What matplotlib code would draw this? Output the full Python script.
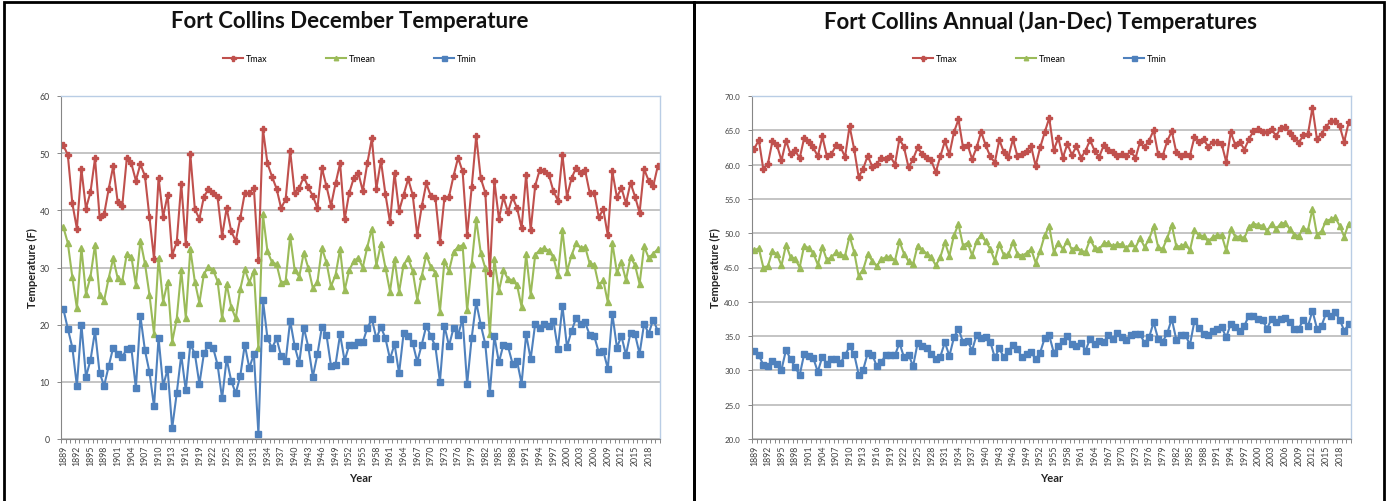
import matplotlib
matplotlib.use("Agg")
import matplotlib.pyplot as plt
from matplotlib.ticker import MultipleLocator, FixedLocator

plt.rcParams['font.family'] = ['Lato', 'DejaVu Sans']

years = list(range(1889, 2021))
label_years = list(range(1889, 2021, 3))

# December temperatures (F)
dec_tmax = [51.4, 49.7, 41.2, 36.8, 47.2, 40.3, 43.2, 49.1, 38.9, 39.3,
            43.7, 47.7, 41.4, 40.8, 49.1, 48.2, 45.2, 48.1, 46.0, 38.8,
            31.5, 45.7, 38.9, 42.7, 32.2, 34.4, 44.6, 34.1, 49.8, 40.2,
            38.5, 42.4, 43.7, 43.1, 42.3, 35.5, 40.4, 36.4, 34.6, 38.6,
            43.0, 43.0, 43.9, 31.3,
            54.2, 48.2, 45.9, 43.8, 40.4, 41.9, 50.4, 43.0, 43.9, 45.9,
            44.0, 42.5, 40.4, 47.4, 44.2, 40.8, 44.7, 48.2, 38.4, 43.0,
            45.6, 46.6, 43.4, 48.2, 52.6, 43.8, 48.7, 42.8, 37.9, 46.5,
            39.9, 42.7, 45.5, 42.7, 35.7, 40.7, 44.7, 42.5, 42.2, 34.5,
            42.2, 42.4, 46.0, 49.2, 46.8, 35.6,
            44.0, 53.0, 45.6, 43.1, 29.0, 45.1, 38.5, 42.3, 39.7, 42.3,
            40.4, 36.9, 46.2, 36.5, 44.3, 47.1, 46.9, 46.2, 43.4, 41.7,
            49.7, 42.4, 45.6, 47.4, 46.6, 47.0, 43.1, 43.1, 38.8, 40.2,
            35.6, 46.8, 42.3, 43.9, 41.2, 44.8, 42.4, 39.6, 47.2, 45.2,
            44.2, 47.7]
dec_tmean = [37.1, 34.3, 28.3, 22.9, 33.4, 25.4, 28.4, 34.0, 25.2, 24.2,
             28.1, 31.6, 28.1, 27.6, 32.4, 31.9, 27.0, 34.7, 30.7, 25.2,
             18.4, 31.7, 24.0, 27.5, 17.0, 21.0, 29.5, 21.2, 33.2, 27.5,
             23.8, 28.9, 30.1, 29.6, 27.6, 21.1, 27.1, 23.1, 21.1, 26.2,
             29.7, 27.4, 29.4, 15.9,
             39.3, 32.8, 30.9, 30.6, 27.3, 27.6, 35.5, 29.5, 28.4, 32.6,
             29.9, 26.4, 27.4, 33.4, 30.9, 26.7, 28.7, 33.2, 26.0, 29.5,
             31.1, 31.7, 30.0, 33.6, 36.8, 30.4, 34.1, 29.9, 25.8, 31.5,
             25.7, 30.5, 31.6, 29.4, 24.4, 28.5, 32.2, 30.1, 29.1, 22.3,
             31.1, 29.4, 32.7, 33.6, 33.9, 22.5,
             30.6, 38.4, 32.6, 29.9, 18.3, 31.4, 25.9, 29.5, 28.0, 27.8,
             26.9, 23.1, 32.3, 25.2, 32.2, 33.1, 33.4, 32.9, 31.8, 28.7,
             36.5, 29.3, 32.1, 34.3, 33.4, 33.6, 30.7, 30.5, 26.9, 27.8,
             23.9, 34.3, 29.2, 30.9, 27.8, 31.8, 30.4, 27.1, 33.7, 31.7,
             32.4, 33.2]
dec_tmin = [22.8, 19.3, 16.0, 9.3, 20.0, 10.9, 13.8, 18.9, 11.6, 9.3,
            12.7, 16.0, 14.9, 14.4, 15.7, 15.9, 8.9, 21.5, 15.5, 11.7,
            5.7, 17.7, 9.3, 12.2, 1.9, 8.0, 14.7, 8.5, 16.6, 14.9,
            9.6, 15.0, 16.4, 16.0, 13.0, 7.1, 14.0, 10.2, 8.0, 11.0,
            16.5, 12.4, 14.9, 0.9,
            24.3, 17.6, 15.9, 17.6, 14.5, 13.6, 20.7, 16.2, 13.3, 19.5,
            16.1, 10.9, 14.8, 19.6, 18.2, 12.8, 13.0, 18.3, 13.7, 16.4,
            16.4, 16.9, 16.9, 19.4, 21.0, 17.6, 19.6, 17.6, 14.0, 16.6,
            11.5, 18.5, 18.0, 16.8, 13.5, 16.5, 19.8, 18.0, 16.2, 10.0,
            19.8, 16.3, 19.4, 18.2, 21.0, 9.6,
            17.7, 23.9, 20.0, 16.6, 8.0, 18.0, 13.4, 16.5, 16.2, 13.2,
            13.6, 9.7, 18.3, 14.0, 20.2, 19.5, 20.1, 19.7, 20.7, 15.8,
            23.3, 16.1, 18.9, 21.1, 20.1, 20.4, 18.2, 18.0, 15.2, 15.4,
            12.3, 21.9, 16.0, 18.0, 14.7, 18.6, 18.3, 14.9, 20.2, 18.4,
            20.9, 18.9]

# annual temperatures (F)
ann_tmax = [62.3, 63.6, 59.3, 60.1, 63.4, 62.8, 60.6, 63.5, 61.5, 62.1,
            60.9, 63.9, 63.3, 62.5, 61.2, 64.1, 61.2, 61.5, 62.8, 62.6,
            61.1, 65.6, 62.3, 58.2, 59.4, 61.3, 59.7, 60.1, 61.0, 60.8,
            61.2, 60.0, 63.8, 62.5, 59.6, 60.8, 62.5, 61.5, 61.0,
            60.6, 58.9, 61.2, 63.4, 61.5, 64.7, 66.6, 62.5, 62.9, 60.8,
            62.5, 64.8, 62.8, 61.2, 60.3, 63.6, 61.8, 61.1, 63.7, 61.2,
            61.6, 62.0, 62.7, 59.8, 62.5, 64.7, 66.8, 62.1, 63.9, 61.0,
            63.0, 61.4, 62.7, 61.0, 62.0, 63.6, 62.0, 61.1, 62.8, 62.2,
            61.8, 61.3, 61.6, 61.3, 62.0, 60.9, 63.3,
            62.5, 63.5, 65.0, 61.5, 61.3, 63.4, 64.9, 61.8, 61.3, 61.5,
            61.3, 64.0, 63.3, 63.8, 62.6, 63.3, 63.3, 63.0, 60.4, 64.7,
            62.9, 63.3, 62.2, 63.7, 64.9, 65.2, 64.8, 64.8, 65.2, 64.1,
            65.4, 65.5, 64.6, 63.9, 63.2, 64.3, 64.4, 68.3, 63.7, 64.5,
            65.5, 66.3, 66.4, 65.6, 63.3, 66.2]
ann_tmean = [47.5, 47.8, 45.0, 45.2, 47.4, 46.9, 45.3, 48.3, 46.5, 46.3,
             45.0, 48.2, 47.8, 47.1, 45.4, 48.0, 46.1, 46.5, 47.2, 46.9,
             46.7, 49.6, 47.3, 43.8, 44.7, 46.9, 46.0, 45.2, 46.2, 46.5,
             46.6, 46.0, 48.8, 47.0, 45.9, 45.5, 48.2, 47.6, 47.0,
             46.5, 45.3, 46.5, 48.7, 46.7, 49.7, 51.3, 48.2, 48.6, 46.8,
             48.8, 49.7, 48.8, 47.7, 46.0, 48.4, 46.8, 46.9, 48.7, 47.0,
             46.7, 47.1, 47.7, 45.7, 47.4, 49.7, 51.0, 47.3, 48.6, 47.7,
             48.9, 47.6, 48.0, 47.4, 47.3, 49.1, 47.9, 47.7, 48.5, 48.6,
             48.1, 48.4, 48.4, 47.8, 48.5, 47.9, 49.3,
             48.0, 49.1, 51.0, 48.0, 47.7, 49.3, 51.2, 48.1, 48.1, 48.4,
             47.5, 50.4, 49.7, 49.6, 48.8, 49.4, 49.7, 49.7, 47.5, 50.6,
             49.5, 49.5, 49.3, 50.9, 51.4, 51.2, 51.1, 50.3, 51.4, 50.6,
             51.4, 51.5, 50.6, 49.8, 49.6, 50.8, 50.4, 53.5, 49.8, 50.3,
             51.8, 52.0, 52.3, 51.1, 49.5, 51.4]
ann_tmin = [32.9, 32.2, 30.8, 30.6, 31.3, 30.9, 30.1, 33.0, 31.6, 30.5,
            29.3, 32.4, 32.1, 31.8, 29.8, 32.0, 31.0, 31.7, 31.7, 31.1,
            32.2, 33.5, 32.4, 29.4, 30.1, 32.5, 32.3, 30.6, 31.2, 32.3,
            32.2, 32.2, 34.0, 31.9, 32.3, 30.6, 34.0, 33.6, 33.2,
            32.4, 31.7, 32.0, 34.1, 32.1, 34.8, 36.1, 34.1, 34.3, 32.9,
            35.2, 34.7, 34.8, 34.2, 31.9, 33.2, 31.9, 32.8, 33.7, 33.1,
            31.9, 32.4, 32.7, 31.6, 32.6, 34.7, 35.1, 32.6, 33.5, 34.3,
            35.0, 33.8, 33.6, 34.0, 32.9, 34.6, 33.9, 34.3, 34.1, 35.1,
            34.6, 35.5, 34.8, 34.5, 35.1, 35.3, 35.3,
            34.0, 34.8, 37.0, 34.6, 34.2, 35.4, 37.5, 34.5, 35.1, 35.2,
            33.7, 37.2, 36.2, 35.3, 35.1, 35.8, 36.1, 36.3, 34.8, 36.8,
            36.3, 35.8, 36.5, 38.0, 37.9, 37.5, 37.3, 36.1, 37.5, 37.0,
            37.5, 37.6, 37.1, 36.1, 36.1, 37.4, 36.4, 38.7, 36.1, 36.5,
            38.3, 37.9, 38.5, 37.4, 35.8, 36.7]

red = '#C0504D'
green = '#9BBB59'
blue = '#4F81BD'

W, H = 1391, 502
fig = plt.figure(figsize=(W / 100, H / 100), dpi=100)


def draw_panel(left_px, center_px, title, tmax, tmean, tmin, ylo, yhi, ystep, yfmt,
               ypad, ysize, ylab_x):
    ax = fig.add_axes([left_px / W, 62 / H, 599 / W, 343 / H])
    ax.plot(years, tmax, color=red, lw=1.5, marker='P', ms=4.5, mec=red, label='Tmax')
    ax.plot(years, tmean, color=green, lw=1.5, marker='^', ms=4, label='Tmean')
    ax.plot(years, tmin, color=blue, lw=1.5, marker='s', ms=4.5, label='Tmin')

    ax.set_xlim(years[0] - 0.5, years[-1] + 0.5)
    ax.set_ylim(ylo, yhi)
    ax.yaxis.set_major_locator(MultipleLocator(ystep))
    ax.yaxis.set_major_formatter(yfmt)
    ax.grid(axis='y', color='#b4b4b4', lw=1.1)
    ax.set_axisbelow(True)

    ax.xaxis.set_major_locator(FixedLocator(label_years))
    ax.xaxis.set_minor_locator(FixedLocator([y - 0.5 for y in years] + [years[-1] + 0.5]))
    ax.tick_params(axis='x', which='major', length=0, labelsize=6.3, rotation=90,
                   labelcolor='#404040', pad=4)
    ax.tick_params(axis='x', which='minor', length=3, color='#868686', width=0.7)
    ax.tick_params(axis='y', length=3, color='#868686', width=0.7, labelsize=ysize,
                   labelcolor='#404040', pad=ypad)

    for s in ['left', 'bottom']:
        ax.spines[s].set_color('#868686')
        ax.spines[s].set_linewidth(0.8)
    for s in ['top', 'right']:
        ax.spines[s].set_color('#B9CDE5')
        ax.spines[s].set_linewidth(1.0)

    ax.set_ylabel('Temperature (F)', fontsize=8, fontweight='bold', color='#222222')
    ax.yaxis.set_label_coords(ylab_x, 0.5)
    ax.set_xlabel('Year', fontsize=8, fontweight='bold', color='#222222')
    ax.xaxis.set_label_coords(0.5, -0.097)

    fig.text(center_px / W, 1 - 22 / H, title, ha='center', va='center',
             fontsize=16, fontweight='bold', color='#111111')
    fig.legend(*ax.get_legend_handles_labels(), loc='center', ncol=3,
               bbox_to_anchor=(center_px / W, 1 - 60 / H), frameon=False,
               fontsize=6.5, handlelength=2.2, handletextpad=0.3, columnspacing=6.5,
               markerscale=0.8)
    return ax


draw_panel(61, 350, 'Fort Collins December Temperature',
           dec_tmax, dec_tmean, dec_tmin, 0, 60, 10, '{x:.0f}', 5, 6.3, -0.038)
draw_panel(752, 1040, 'Fort Collins Annual (Jan-Dec) Temperatures',
           ann_tmax, ann_tmean, ann_tmin, 20, 70, 5, '{x:.1f}', 5.5, 5.8, -0.051)

# panel frames
for x0, x1 in [(4, 694), (694, 1384)]:
    fig.add_artist(plt.Rectangle((x0 / W, -0.05), (x1 - x0) / W, 1.05 - 3 / H,
                                 transform=fig.transFigure, fill=False,
                                 edgecolor='black', lw=2))

fig.savefig('out.png', dpi=100, facecolor='white')
